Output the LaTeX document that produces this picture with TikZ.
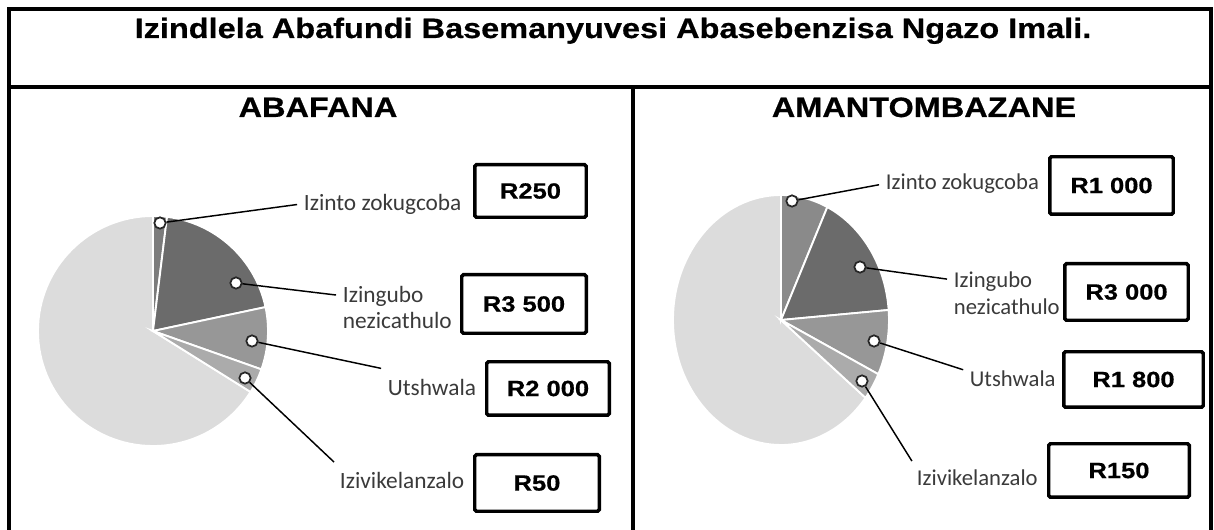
\documentclass[tikz,border=0pt]{standalone}
\usepackage{fontspec}
\setmainfont{Liberation Sans}
\newfontfamily\headfont[FakeStretch=1.16,BoldFeatures={FakeBold=0.6}]{Liberation Sans}
\newfontfamily\labfont{Carlito}

\definecolor{pielight}{HTML}{DCDCDC}
\definecolor{pietop}{HTML}{7C7C7C}
\definecolor{pietopg}{HTML}{8A8A8A}
\definecolor{piedark}{HTML}{6B6B6B}
\definecolor{piemid}{HTML}{979797}
\definecolor{piepale}{HTML}{ABABAB}
\definecolor{labgrey}{HTML}{3A3A3A}

\tikzset{
  tablerule/.style={line width=3pt},
  slice/.style={draw=white,line width=1.4pt},
  marker/.style={circle,fill=white,draw=black!85,line width=1.3pt,minimum size=8.5pt,inner sep=0pt},
  lead/.style={line width=1.1pt,shorten >=3pt},
  catlabel/.style={font=\labfont\fontsize{#1}{20}\selectfont,text=labgrey,align=left,inner sep=2pt,anchor=west},
  catlabel/.default=17.5,
  valbox/.style={draw,line width=2.6pt,rounded corners=1.2pt,font=\headfont\bfseries\fontsize{16.5}{18}\selectfont,inner sep=0pt},
  heading/.style={font=\headfont\bfseries\fontsize{21}{24}\selectfont,anchor=base}
}

\begin{document}
\begin{tikzpicture}[x=0.75pt,y=-0.75pt]
  \useasboundingbox (0,0) rectangle (1214,530);

  \draw[tablerule] (9,530) -- (9,9) -- (1211,9) -- (1211,530);
  \draw[tablerule] (9,87) -- (1211,87);
  \draw[tablerule] (633,87) -- (633,530);

  \node[heading] (title) at (613,38) {Izindlela Abafundi Basemanyuvesi Abasebenzisa Ngazo Imali.};
  \node[heading] (boys) at (318,117) {ABAFANA};
  \node[heading] (girls) at (924,117) {AMANTOMBAZANE};

  % abafana
  \begin{scope}[shift={(153,331)},yscale=-1]
    \path[slice,fill=pielight] (0,0) -- (90:115) arc[start angle=90,end angle=328,radius=115] -- cycle;
    \path[slice,fill=pietop] (0,0) -- (83:115) arc[start angle=83,end angle=90,radius=115] -- cycle;
    \path[slice,fill=piedark] (0,0) -- (12:115) arc[start angle=12,end angle=83,radius=115] -- cycle;
    \path[slice,fill=piemid] (0,0) -- (-19.5:115) arc[start angle=-19.5,end angle=12,radius=115] -- cycle;
    \path[slice,fill=piepale] (0,0) -- (-32:115) arc[start angle=-32,end angle=-19.5,radius=115] -- cycle;
  \end{scope}

  \node[marker] (bm1) at (160,223) {};
  \node[marker] (bm2) at (236,283) {};
  \node[marker] (bm3) at (252,341) {};
  \node[marker] (bm4) at (245,378) {};

  \node[catlabel] (bl1) at (301,204) {Izinto zokugcoba};
  \node[catlabel] (bl2) at (340,307.5) {Izingubo\\nezicathulo};
  \node[catlabel] (bl3) at (385,387) {Utshwala};
  \node[catlabel] (bl4) at (337,480) {Izivikelanzalo};

  \draw[lead] (bm1) -- (bl1.west);
  \draw[lead] (bm2) -- ([yshift=9pt]bl2.west);
  \draw[lead] (bm3) -- ([yshift=5pt]bl3.north west);
  \draw[lead] (bm4) -- ([yshift=3pt]bl4.north west);

  \node[valbox,minimum width=83.6pt,minimum height=39.4pt] (bv1) at (530.5,191) {R250};
  \node[valbox,minimum width=93.4pt,minimum height=43.9pt] (bv2) at (524,304) {R3 500};
  \node[valbox,minimum width=91.9pt,minimum height=40.1pt] (bv3) at (548,388.5) {R2 000};
  \node[valbox,minimum width=93.4pt,minimum height=42.4pt] (bv4) at (537,483) {R50};

  % amantombazane
  \begin{scope}[shift={(781,320)},yscale=-1]
    \path[slice,fill=pielight] (0,0) -- (90:108 and 125) arc[start angle=90,end angle=321.5,x radius=108,y radius=125] -- cycle;
    \path[slice,fill=pietopg] (0,0) -- (64.6:108 and 125) arc[start angle=64.6,end angle=90,x radius=108,y radius=125] -- cycle;
    \path[slice,fill=piedark] (0,0) -- (4.6:108 and 125) arc[start angle=4.6,end angle=64.6,x radius=108,y radius=125] -- cycle;
    \path[slice,fill=piemid] (0,0) -- (-25.7:108 and 125) arc[start angle=-25.7,end angle=4.6,x radius=108,y radius=125] -- cycle;
    \path[slice,fill=piepale] (0,0) -- (-38.5:108 and 125) arc[start angle=-38.5,end angle=-25.7,x radius=108,y radius=125] -- cycle;
  \end{scope}

  \node[marker] (gm1) at (792,201) {};
  \node[marker] (gm2) at (860,267) {};
  \node[marker] (gm3) at (874,341) {};
  \node[marker] (gm4) at (862,381) {};

  \node[catlabel=17] (gl1) at (883,184) {Izinto zokugcoba};
  \node[catlabel=17] (gl2) at (951,293) {Izingubo\\nezicathulo};
  \node[catlabel=17] (gl3) at (967,379) {Utshwala};
  \node[catlabel=17] (gl4) at (914,478) {Izivikelanzalo};

  \draw[lead] (gm1) -- (gl1.west);
  \draw[lead] (gm2) -- ([yshift=10pt]gl2.west);
  \draw[lead] (gm3) -- ([yshift=6pt]gl3.west);
  \draw[lead] (gm4) -- ([yshift=2pt]gl4.north west);

  \node[valbox,minimum width=92.6pt,minimum height=43.1pt] (gv1) at (1111.5,185.5) {R1 000};
  \node[valbox,minimum width=92.6pt,minimum height=42.4pt] (gv2) at (1126.5,292) {R3 000};
  \node[valbox,minimum width=104.6pt,minimum height=41.6pt] (gv3) at (1133.5,379.5) {R1 800};
  \node[valbox,minimum width=105.4pt,minimum height=40.1pt] (gv4) at (1119,470.5) {R150};
\end{tikzpicture}
\end{document}
